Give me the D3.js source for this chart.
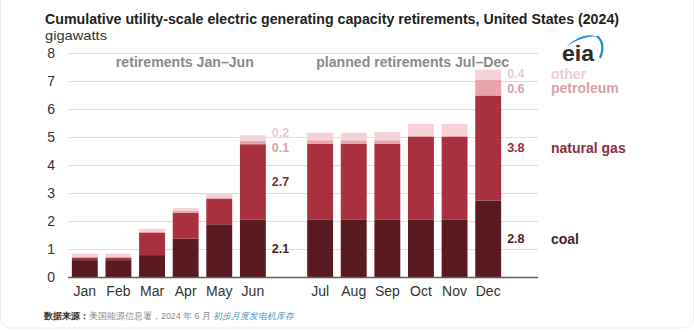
<!DOCTYPE html>
<html><head><meta charset="utf-8">
<script src="https://cdn.jsdelivr.net/npm/d3@7"></script>
<style>
html,body{margin:0;padding:0;background:#fff;}
text{font-family:"Liberation Sans",Arial,sans-serif;}
</style></head>
<body><svg id="c" width="694" height="332"></svg>
<script>
const months = ["Jan","Feb","Mar","Apr","May","Jun","Jul","Aug","Sep","Oct","Nov","Dec"];
const coal      = [0.62,0.62,0.80,1.39,1.90,2.07,2.06,2.06,2.06,2.06,2.06,2.75];
const gas       = [0.08,0.08,0.79,0.92,0.91,2.69,2.72,2.72,2.72,2.96,2.96,3.75];
const petroleum = [0.05,0.05,0.05,0.07,0.05,0.12,0.12,0.12,0.12,0.05,0.05,0.56];
const other     = [0.10,0.10,0.10,0.10,0.15,0.20,0.27,0.27,0.30,0.42,0.42,0.36];
const seriesNames = ["coal","natural gas","petroleum","other"];
const yTicks = [0,1,2,3,4,5,6,7,8];
const labeledMonths = ["Jun","Dec"];
const colors = ["#5a1a22","#a8303f","#e6a4ad","#f4d2d7"];
const labelColors = ["#4a1f25","#8e2d3e","#dba0aa","#eccbd0"];

const svg = d3.select("#c");
// card
svg.append("rect").attr("x",0.5).attr("y",-12).attr("width",693).attr("height",340)
  .attr("rx",10).attr("fill","#fff").attr("stroke","#ececec");

const slots = months.slice(0,6).concat(["gap"], months.slice(6));
const x = d3.scaleBand().domain(slots).range([68,505]).paddingInner(0.23).paddingOuter(0.115);
const y = d3.scaleLinear().domain([0,8]).range([277.5,53.5]);
const xEnd = 538;

// gridlines
svg.append("g").selectAll("line").data(yTicks.filter(d=>d>0)).join("line")
  .attr("x1",68).attr("x2",xEnd).attr("y1",d=>y(d)).attr("y2",d=>y(d))
  .attr("stroke","#dedede").attr("stroke-width",1);

// y axis
const ya = svg.append("g").attr("transform","translate(68,0)")
  .call(d3.axisLeft(y).tickValues(yTicks).tickSize(0).tickPadding(13));
ya.select(".domain").remove();
ya.selectAll("text").attr("font-size",14).attr("fill","#333").attr("font-family","Liberation Sans, Arial, sans-serif");

// stacked data
const rows = months.map((m,i)=>({month:m,coal:coal[i],"natural gas":gas[i],petroleum:petroleum[i],other:other[i]}));
const stack = d3.stack().keys(seriesNames)(rows);

svg.append("g").selectAll("g").data(stack).join("g")
  .attr("fill",(d,i)=>colors[i])
  .selectAll("rect").data(d=>d).join("rect")
  .attr("x",d=>x(d.data.month)).attr("width",x.bandwidth())
  .attr("y",d=>y(d[1])).attr("height",d=>y(d[0])-y(d[1]));

// baseline
svg.append("line").attr("x1",68).attr("x2",xEnd).attr("y1",y(0)).attr("y2",y(0))
  .attr("stroke","#5e5e5e").attr("stroke-width",1.5);

// x axis labels
const xa = svg.append("g").attr("transform",`translate(0,${y(0)})`)
  .call(d3.axisBottom(x).tickValues(months).tickSize(0).tickPadding(9));
xa.select(".domain").remove();
xa.selectAll("text").attr("font-size",14).attr("fill","#333").attr("font-family","Liberation Sans, Arial, sans-serif");

// value labels for Jun and Dec
const fmt = d3.format(".1f");
labeledMonths.forEach(m=>{
  const i = months.indexOf(m);
  let pos = stack.map((s,k)=>({k, v:s[i][1]-s[i][0], cy:y((s[i][0]+s[i][1])/2)}));
  const minGap = 14.5;
  for(let k=pos.length-2;k>=0;k--){
    if(pos[k].cy - pos[k+1].cy < minGap){
      const mid=(pos[k].cy+pos[k+1].cy)/2;
      pos[k].cy = mid+minGap/2; pos[k+1].cy = mid-minGap/2;
    }
  }
  svg.append("g").selectAll("text").data(pos).join("text")
    .attr("x",x(m)+x.bandwidth()+6).attr("y",d=>d.cy).attr("dy","0.35em")
    .attr("font-size",12.5).attr("font-weight","bold")
    .attr("fill",d=>labelColors[d.k]).text(d=>fmt(d.v));
  if(m==="Dec"){
    svg.append("g").selectAll("text").data(pos).join("text")
      .attr("x",551).attr("y",d=>d.cy).attr("dy","0.35em")
      .attr("font-size",14).attr("font-weight","bold")
      .attr("fill",d=>labelColors[d.k]).text(d=>seriesNames[d.k]);
  }
});

// section annotations
svg.append("text").attr("x",x("Jan")+44).attr("y",67)
  .attr("font-size",14).attr("font-weight","bold").attr("fill","#8a8a8a")
  .attr("textLength",138).attr("lengthAdjust","spacingAndGlyphs")
  .text("retirements Jan–Jun");
svg.append("text").attr("x",x("Jul")+9).attr("y",67)
  .attr("font-size",14).attr("font-weight","bold").attr("fill","#8a8a8a")
  .attr("textLength",193).attr("lengthAdjust","spacingAndGlyphs")
  .text("planned retirements Jul–Dec");

// title
svg.append("text").attr("x",45).attr("y",24).attr("font-size",14.5).attr("font-weight","bold")
  .attr("fill","#222").attr("textLength",574).attr("lengthAdjust","spacingAndGlyphs")
  .text("Cumulative utility-scale electric generating capacity retirements, United States (2024)");
svg.append("text").attr("x",45).attr("y",40).attr("font-size",13.5).attr("fill","#333")
  .attr("textLength",62).attr("lengthAdjust","spacingAndGlyphs").text("gigawatts");

// eia logo
const logo = svg.append("g");
logo.append("path").attr("d","M566,47 Q586,28 603,40 Q596,34 584,38 Q574,41 566,47 Z").attr("fill","#1a8fc9");
logo.append("path").attr("d","M597,36 Q606,44 600,58").attr("fill","none").attr("stroke","#1a8fc9").attr("stroke-width",2.2);
logo.append("text").attr("x",562).attr("y",61).attr("font-size",22).attr("font-weight","bold")
  .attr("fill","#2b2b2b").attr("textLength",32).attr("lengthAdjust","spacingAndGlyphs").text("eia");

// footer
const foot = svg.append("text").attr("x",44).attr("y",319).attr("font-size",8.8)
  .attr("font-family","Noto Sans CJK SC, sans-serif");
foot.append("tspan").attr("font-weight","bold").attr("fill","#333").text("数据来源：");
foot.append("tspan").attr("fill","#888").text("美国能源信息署，2024 年 6 月 ");
foot.append("tspan").attr("fill","#4a90c8").attr("font-style","italic").text("初步月度发电机库存");
</script></body></html>
